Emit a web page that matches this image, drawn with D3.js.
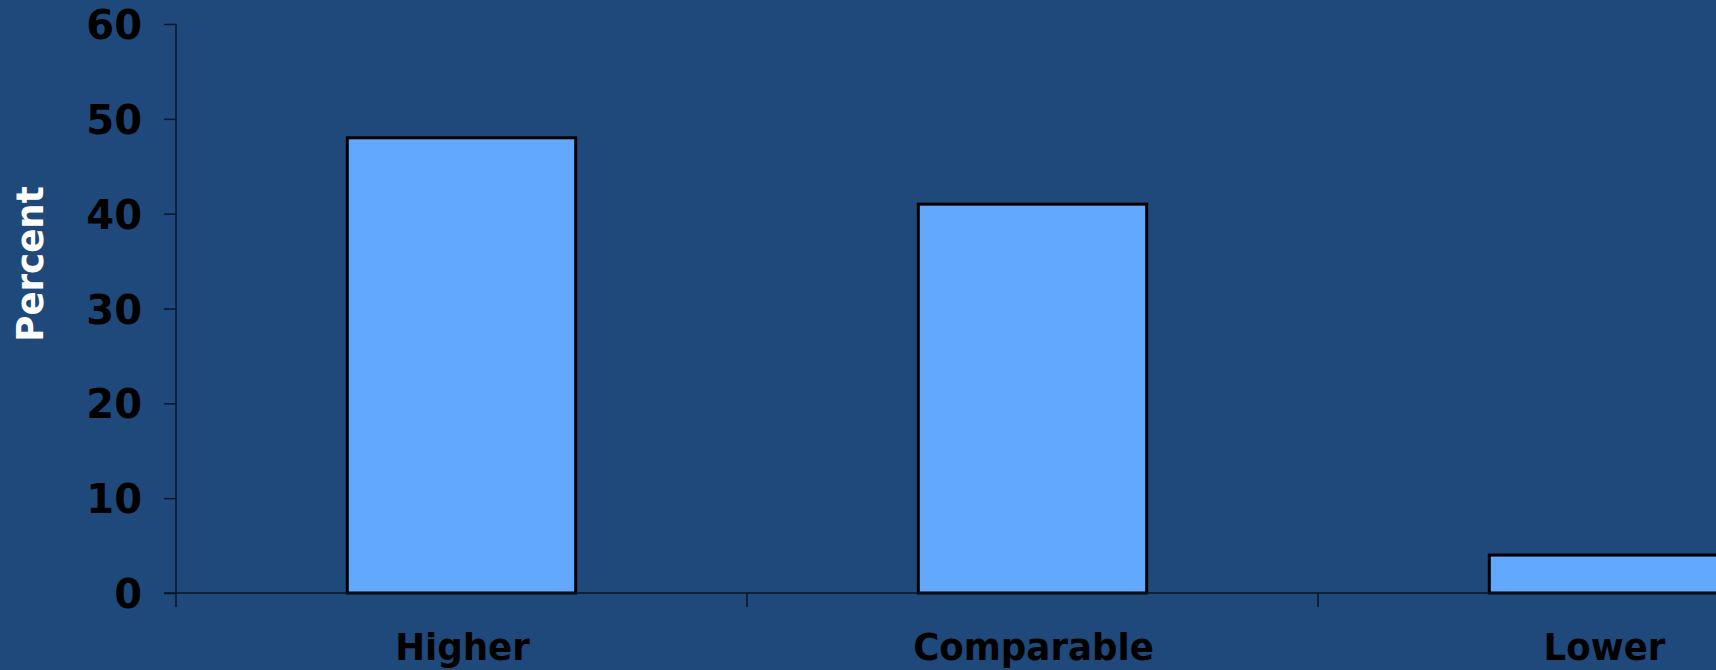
<!DOCTYPE html>
<html>
<head>
<meta charset="utf-8">
<script src="https://cdn.jsdelivr.net/npm/d3@7"></script>
<style>
  html, body { margin: 0; padding: 0; background: #1f487b; overflow: hidden; }
  svg { display: block; }
</style>
</head>
<body>
<svg id="chart" width="1716" height="670"></svg>
<script>
const categories = ["Higher", "Comparable", "Lower"];
const values = [48, 41, 4];
const yTicks = [0, 10, 20, 30, 40, 50, 60];
const yLabel = "Percent";

const W = 1716, H = 670;
const FONT = "'DejaVu Sans', Verdana, sans-serif";
const svg = d3.select("#chart");
svg.append("rect").attr("width", W).attr("height", H).attr("fill", "#1f487b");

const x0 = 176, x1 = 1889, yTop = 24, yZero = 593;
const axisColor = "#0a1526";
const sx = 0.95; // horizontal condensing of label text

const x = d3.scaleBand().domain(categories).range([x0, x1]).paddingInner(0.6).paddingOuter(0.3);
const y = d3.scaleLinear().domain([0, 60]).range([yZero, yTop]);

// bars
svg.append("g").selectAll("rect").data(values).join("rect")
  .attr("x", (d, i) => x(categories[i]))
  .attr("y", d => y(d))
  .attr("width", x.bandwidth())
  .attr("height", d => y(0) - y(d))
  .attr("fill", "#62a8ff")
  .attr("stroke", "#000")
  .attr("stroke-width", 3);

// y axis
const yAxis = d3.axisLeft(y).tickValues(yTicks).tickSize(12).tickPadding(22).tickFormat(d3.format("d"));
const gy = svg.append("g").attr("transform", `translate(${x0},0)`).call(yAxis);
gy.attr("font-family", null).attr("font-size", null);
gy.select(".domain").remove();
gy.selectAll(".tick line").attr("stroke", axisColor).attr("stroke-width", 1.5);
gy.selectAll(".tick text")
  .style("font-family", FONT).style("font-weight", "bold").style("font-size", "40px")
  .attr("fill", "#000")
  .attr("dy", "0.365em");
svg.append("line").attr("x1", x0).attr("x2", x0).attr("y1", yTop).attr("y2", yZero + 14)
  .attr("stroke", axisColor).attr("stroke-width", 1.5);

// x axis baseline
svg.append("line").attr("x1", x0 - 12).attr("x2", W).attr("y1", yZero).attr("y2", yZero)
  .attr("stroke", axisColor).attr("stroke-width", 1.5);

// category separator ticks
const step = x.step();
svg.append("g").selectAll("line").data(categories.slice(1)).join("line")
  .attr("x1", c => x(c) - (step - x.bandwidth()) / 2)
  .attr("x2", c => x(c) - (step - x.bandwidth()) / 2)
  .attr("y1", yZero).attr("y2", yZero + 14)
  .attr("stroke", axisColor).attr("stroke-width", 1.5);

// category labels
svg.append("g").selectAll("text").data(categories).join("text")
  .attr("transform", c => `translate(${x(c) + x.bandwidth() / 2 + 1},660) scale(${sx},1)`)
  .attr("text-anchor", "middle")
  .style("font-family", FONT).style("font-weight", "bold").style("font-size", "37.5px")
  .attr("fill", "#000")
  .text(c => c);

// y label
svg.append("text")
  .attr("transform", `translate(43,264) rotate(-90) scale(${sx},1)`)
  .attr("text-anchor", "middle")
  .style("font-family", FONT).style("font-weight", "bold").style("font-size", "37.5px")
  .attr("fill", "#fff")
  .text(yLabel);
</script>
</body>
</html>
